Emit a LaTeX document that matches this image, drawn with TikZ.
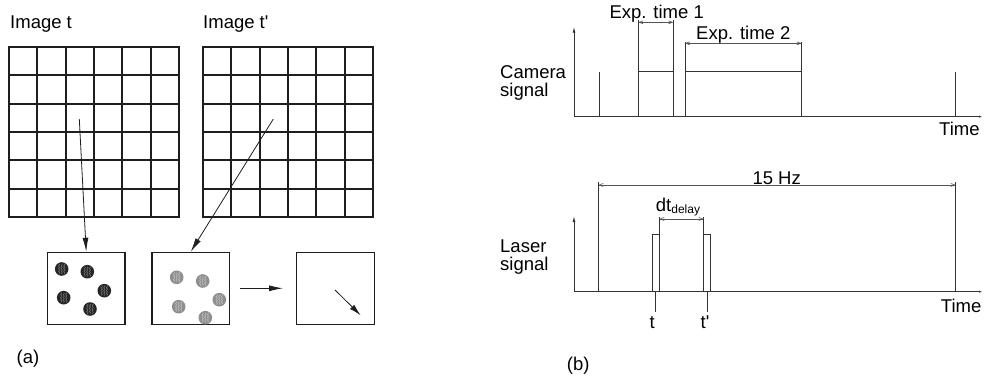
\documentclass[tikz,border=0pt]{standalone}
\usepackage{fontspec}
\setmainfont{Liberation Sans}
\usepackage{tikz}
\usetikzlibrary{arrows.meta, positioning, calc, decorations.pathmorphing}
\definecolor{lineblk}{HTML}{1E1E1E}
\definecolor{linegray}{HTML}{333333}
\definecolor{dimgray}{HTML}{555555}
\definecolor{dotdark}{HTML}{262626}
\definecolor{dotlight}{HTML}{8E8E8E}

\begin{document}
\begin{tikzpicture}[x=1pt, y=-1pt,
  font=\fontsize{18.5}{18.4}\selectfont,
  gridframe/.style={draw=lineblk, line width=1.6pt, minimum width=170pt, minimum height=170pt, inner sep=0pt, outer sep=0pt},
  gridline/.style={draw=lineblk, line width=1.6pt},
  vecbox/.style={draw=lineblk, line width=1.1pt, minimum width=77.5pt, minimum height=72pt, inner sep=0pt},
  flow/.style={draw=lineblk, line width=0.8pt, -{Latex[length=14pt, width=6pt]}},
  sig/.style={draw=linegray, line width=0.9pt},
  axis/.style={draw=linegray, line width=0.9pt, -{Latex[length=6pt, width=3pt]}},
  dimline/.style={draw=dimgray, line width=0.6pt, {Straight Barb[length=4pt, width=3pt]}-{Straight Barb[length=4pt, width=3pt]}},
  wavy/.style={line width=0.5pt, decorate, decoration={snake, amplitude=0.7pt, segment length=2.6pt}},
  lbl/.style={inner sep=0pt, anchor=base west},
  clbl/.style={inner sep=0pt, anchor=base}]

  \useasboundingbox (0,0) rectangle (986,383);

  %% (a) Image pairs
  \node[lbl] (capT)  at (10,28.3)  {Image t};
  \node[lbl] (capTp) at (203,28.3) {Image t\textquotesingle};

  \node[gridframe] (gridT)  at (94,132) {};
  \node[gridframe] (gridTp) at (288,132) {};
  \foreach \g in {gridT, gridTp}{
    \foreach \d in {28,57,85,113,142}{
      \draw[gridline] ([xshift=\d pt]\g.north west) -- ([xshift=\d pt]\g.south west);
      \draw[gridline] ([yshift=-\d pt]\g.north west) -- ([yshift=-\d pt]\g.north east);
    }
  }

  %% Interrogation windows
  \node[vecbox] (boxT)  at (86.2,288.3)  {};
  \node[vecbox] (boxTp) at (190.7,288.3) {};
  \node[vecbox] (boxV)  at (335.3,288.3) {};

  \foreach \px/\py in {61.7/269, 87.3/271.7, 104.3/290.7, 63.7/297.7, 90/309}{
    \fill[dotdark] (\px,\py) circle[radius=6.8pt];
    \foreach \dx in {-2.6,0,2.6}
      \draw[wavy, black!55] (\px+\dx,\py-5) -- (\px+\dx,\py+5);
  }
  \foreach \px/\py in {176.7/277.3, 202.7/281, 219.3/299.7, 178.7/306.7, 205.3/317.7}{
    \fill[dotlight] (\px,\py) circle[radius=6.8pt];
    \foreach \dx in {-2.6,0,2.6}
      \draw[wavy, black!25] (\px+\dx,\py-5) -- (\px+\dx,\py+5);
  }

  \coordinate (srcT)  at (79.3,119);
  \coordinate (srcTp) at (273.3,119);
  \draw[flow] (srcT) -- (boxT.north);
  \draw[flow] (srcTp) -- (boxTp.north);
  \draw[flow] ([xshift=10pt]boxTp.east) -- ([xshift=-13pt]boxV.west);

  \coordinate (vecA) at (335,290);
  \coordinate (vecB) at (360.7,315.3);
  \draw[flow, -{Latex[length=12pt, width=6pt]}] (vecA) -- (vecB);

  \node[lbl] (capA) at (16.5,363) {(a)};

  %% (b) Camera signal
  \coordinate (camO) at (574,116.7);
  \draw[axis] (camO) -- (574,26.7);
  \draw[axis, -{Latex[length=4pt, width=2pt]}] (camO) -- (983,116.7);
  \node[lbl] (camA) at (500,78.3) {Camera};
  \node[lbl] (camB) at (500,96.7) {signal};
  \node[lbl] (camX) at (939,135) {Time};

  \draw[sig] (599,116.7) -- (599,71.7);
  \draw[sig] (638.3,116.7) -- (638.3,20) (673.3,116.7) -- (673.3,20);
  \draw[sig] (638.3,71.7) -- (673.3,71.7);
  \draw[sig] (685,116.7) -- (685,41.7) (801.7,116.7) -- (801.7,41.7);
  \draw[sig] (685,71.7) -- (801.7,71.7);
  \draw[sig] (955.7,116.7) -- (955.7,71.7);

  \coordinate (expAl) at (638.3,22.3);
  \coordinate (expAr) at (673.3,22.3);
  \coordinate (expBl) at (685,43.3);
  \coordinate (expBr) at (801.7,43.3);
  \draw[dimline] (expAl) -- (expAr);
  \draw[dimline] (expBl) -- (expBr);
  \node[clbl] (expA) at (656.7,18) {Exp. time 1};
  \node[clbl] (expB) at (743.3,39.5) {Exp. time 2};

  %% (b) Laser signal
  \coordinate (lasO) at (574,291.7);
  \draw[axis] (lasO) -- (574,216);
  \draw[axis, -{Latex[length=4pt, width=2pt]}] (lasO) -- (983,291.7);
  \node[lbl] (lasA) at (500,252.3) {Laser};
  \node[lbl] (lasB) at (500,270.7) {signal};
  \node[lbl] (lasX) at (940.7,312.7) {Time};

  \draw[sig] (598.3,291.7) -- (598.3,182) (955.7,291.7) -- (955.7,182);
  \draw[sig] (652.3,291.7) -- (652.3,234) -- (659.3,234) -- (659.3,217);
  \draw[sig] (659.3,291.7) -- (659.3,234);
  \draw[sig] (703.7,291.7) -- (703.7,217) (703.7,234) -- (710.7,234) -- (710.7,291.7);
  \draw[sig] (655.7,291.7) -- (655.7,311.7) (707.3,291.7) -- (707.3,311.7);

  \coordinate (hzL) at (598.3,185);
  \coordinate (hzR) at (955.7,185);
  \coordinate (dtL) at (659.3,219);
  \coordinate (dtR) at (703.7,219);
  \draw[dimline] (hzL) -- (hzR);
  \draw[dimline] (dtL) -- (dtR);
  \node[clbl] (hz) at (776.7,184) {15 Hz};
  \node[clbl] (dt) at (678,211.7) {dt\raisebox{-2pt}{\fontsize{12}{12}\selectfont delay}};

  \node[clbl] (tA) at (652.3,328.3) {t};
  \node[clbl] (tB) at (705,328.3) {t\textquotesingle};

  \node[lbl] (capB) at (566.7,370) {(b)};

\end{tikzpicture}
\end{document}
